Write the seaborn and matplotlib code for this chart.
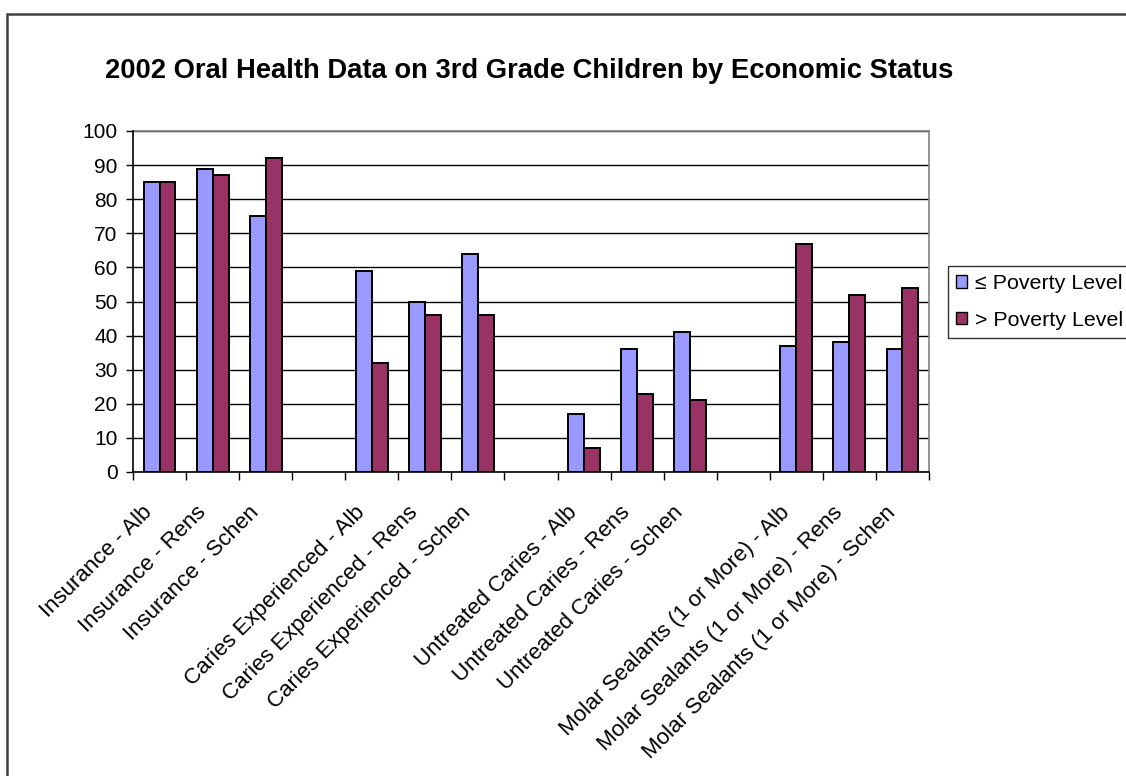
import matplotlib
matplotlib.use("Agg")
import matplotlib.pyplot as plt
import matplotlib.patches as mpatches
import matplotlib.transforms as mtransforms
import numpy as np
import pandas as pd
import seaborn as sns

# ---- data ----
categories = [
    "Insurance - Alb", "Insurance - Rens", "Insurance - Schen", " ",
    "Caries Experienced - Alb", "Caries Experienced - Rens", "Caries Experienced - Schen", "  ",
    "Untreated Caries - Alb", "Untreated Caries - Rens", "Untreated Caries - Schen", "   ",
    "Molar Sealants (1 or More) - Alb", "Molar Sealants (1 or More) - Rens",
    "Molar Sealants (1 or More) - Schen",
]
series = ["\u2264 Poverty Level", "> Poverty Level"]
below_poverty = [85, 89, 75, None, 59, 50, 64, None, 17, 36, 41, None, 37, 38, 36]
above_poverty = [85, 87, 92, None, 32, 46, 46, None, 7, 23, 21, None, 67, 52, 54]
yticks = list(range(0, 101, 10))
title = "2002 Oral Health Data on 3rd Grade Children by Economic Status"
colors = ["#9999FF", "#993366"]

rows = []
for c, a, b in zip(categories, below_poverty, above_poverty):
    if a is not None:
        rows.append((c, series[0], a))
        rows.append((c, series[1], b))
df = pd.DataFrame(rows, columns=["category", "series", "value"])

sns.set_style("white")
plt.rcParams["font.family"] = ["Liberation Sans", "DejaVu Sans"]
plt.rcParams["text.color"] = "black"
plt.rcParams["xtick.color"] = "black"
plt.rcParams["ytick.color"] = "black"
plt.rcParams["axes.labelcolor"] = "black"

fig = plt.figure(figsize=(11.26, 7.76), dpi=100)
W, H = 1126, 776
ax = fig.add_axes([133 / W, 1 - 472 / H, (929 - 133) / W, (472 - 131) / H])

sns.barplot(data=df, x="category", y="value", hue="series", order=categories,
            hue_order=series, palette=colors, width=0.6, gap=0, saturation=1,
            edgecolor="black", linewidth=1.4, ax=ax, zorder=3)

ax.set_xlim(-0.5, len(categories) - 0.5)
ax.set_ylim(0, 100)
ax.set_yticks(yticks)
ax.set_yticklabels([str(v) for v in yticks], fontsize=15, color="black")
ax.set_xlabel("")
ax.set_ylabel("")

ax.set_xticks(range(len(categories)))
ax.set_xticklabels([c.strip() for c in categories], fontsize=16, rotation=45,
                   ha="right", va="center", rotation_mode="anchor", color="black")
ax.set_xticks(np.arange(-0.5, len(categories), 1), minor=True)
ax.tick_params(axis="x", which="major", length=0, pad=27)
ax.tick_params(axis="x", which="minor", length=5.5, width=1, color="black", direction="out", bottom=True)
ax.tick_params(axis="y", length=5, width=1, color="black", direction="out", pad=6, left=True)

shift = mtransforms.ScaledTranslation(-10 / 100, 0, fig.dpi_scale_trans)
for lbl in ax.get_xticklabels():
    lbl.set_transform(lbl.get_transform() + shift)

ax.yaxis.grid(True, color="black", linewidth=1)
ax.xaxis.grid(False)
ax.set_axisbelow(True)

for s in ["top", "right"]:
    ax.spines[s].set_color("#808080")
    ax.spines[s].set_linewidth(1.2)
for s in ["left", "bottom"]:
    ax.spines[s].set_color("black")
    ax.spines[s].set_linewidth(1.2)
    ax.spines[s].set_zorder(4)

handles, labels = ax.get_legend_handles_labels()
ax.get_legend().remove()
leg = fig.legend(handles, labels, loc="upper left",
                 bbox_to_anchor=(948 / W, 1 - 266 / H), bbox_transform=fig.transFigure,
                 fontsize=15.4, frameon=True, fancybox=False, edgecolor="black",
                 borderaxespad=0, borderpad=0.38, handlelength=0.5, handleheight=0.5,
                 handletextpad=0.4, labelspacing=0.82)
leg.get_frame().set_linewidth(1.0)
for p in leg.get_patches():
    p.set_edgecolor("black")
    p.set_linewidth(1.0)

fig.text(105 / W, 1 - 78 / H, title, fontsize=19.7, fontweight="bold",
         ha="left", va="baseline", color="black")

border = mpatches.Rectangle((7 / W, -0.1), 1.2, 1.1 - 14 / H, transform=fig.transFigure,
                            fill=False, edgecolor="#404040", linewidth=1.8, clip_on=False)
fig.add_artist(border)

fig.savefig("out.png", dpi=100, facecolor="white")
